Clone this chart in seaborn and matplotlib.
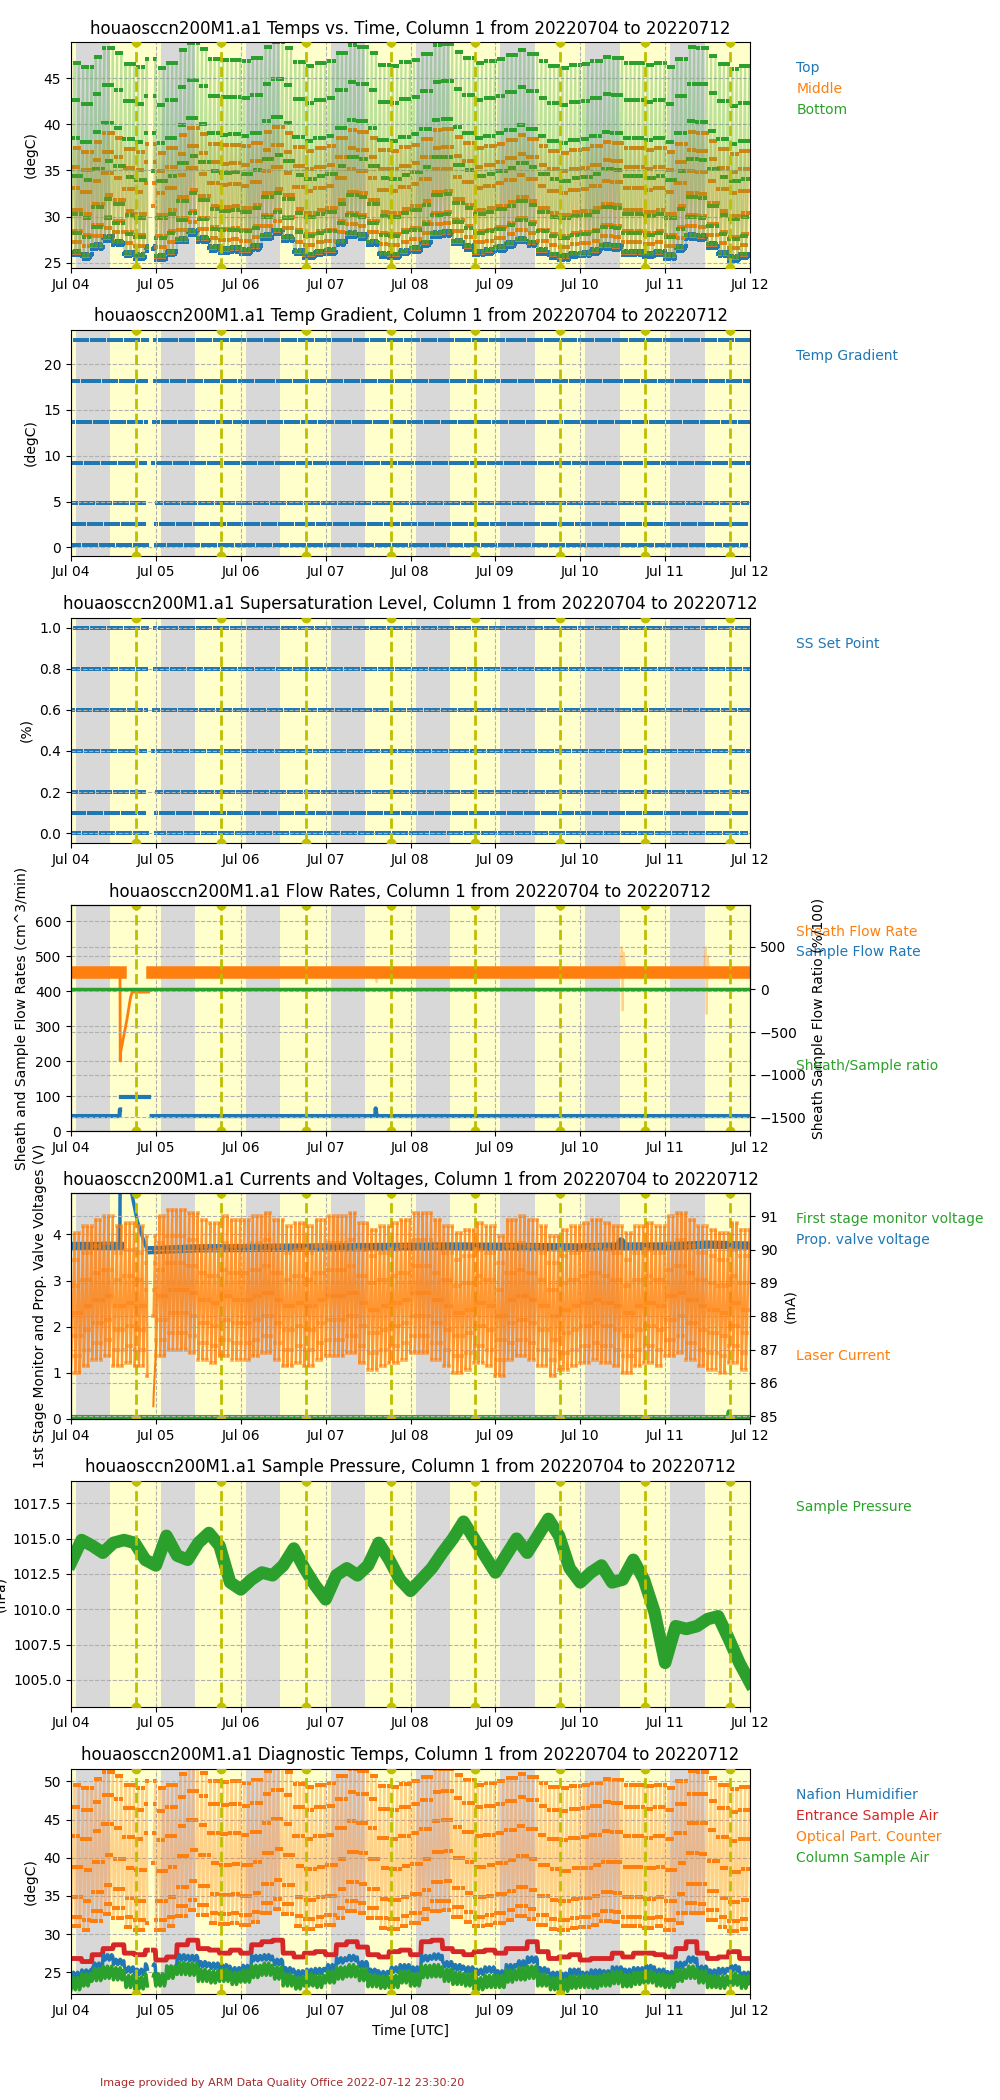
import numpy as np
import pandas as pd
import matplotlib
matplotlib.use('Agg')
import matplotlib.pyplot as plt
import matplotlib.dates as mdates
import matplotlib.ticker as mticker
from matplotlib.lines import Line2D
import seaborn as sns

nan = np.nan
start = pd.Timestamp('2022-07-04')
n_days = 8

# colours
c_blue, c_orange, c_green, c_red = '#1f77b4', '#ff7f0e', '#2ca02c', '#d62728'

titles = ['Temps vs. Time', 'Temp Gradient', 'Supersaturation Level', 'Flow Rates',
          'Currents and Voltages', 'Sample Pressure', 'Diagnostic Temps']
title_head = 'houaosccn200M1.a1 '
title_tail = ', Column 1 from 20220704 to 20220712'

# day / night shading (fraction of day, UTC)
night_start, night_end, solar_noon = 0.06, 0.465, 0.765

# supersaturation cycle: 7 steps, ~20 cycles per day
ss_levels = [0.0, 0.1, 0.2, 0.4, 0.6, 0.8, 1.0]
grad_levels = [0.3, 2.5, 4.8, 9.2, 13.7, 18.2, 22.6]
top_offsets = [0.0, 0.1, 0.1, 0.2, 0.3, 0.4, 0.5]
middle_offsets = [0.3, 1.4, 2.6, 4.9, 7.3, 9.6, 11.6]
bottom_offsets = [0.4, 2.4, 4.5, 8.6, 12.7, 16.8, 20.8]
opc_offsets = [5.2, 6.5, 9.0, 13.0, 17.0, 20.8, 23.8]
laser_levels = [86.5, 87.0, 87.6, 88.3, 89.1, 89.9, 90.7]
nafion_cycle = [-0.3, -0.2, 0.0, 0.2, 0.4, 0.3, 0.1]
column_cycle = [-0.6, -0.3, 0.2, 0.7, 1.0, 0.6, 0.0]
steps_per_day = 140
gap_start, gap_end = 0.90, 0.97

# 3-hourly values (8 per day)
top_temp_3h = [25.8, 25.4, 26.5, 27.4, 26.9, 25.7, 25.4, 26.3,
               25.3, 25.8, 27.2, 28.0, 27.3, 26.3, 26.1, 26.2,
               26.0, 26.4, 27.6, 28.1, 27.4, 25.9, 25.5, 25.8,
               26.0, 26.9, 27.8, 27.6, 26.9, 25.6, 25.5, 25.9,
               26.2, 26.8, 27.8, 27.9, 27.0, 26.4, 25.8, 26.0,
               26.3, 26.7, 27.2, 26.8, 26.0, 25.5, 25.3, 25.6,
               25.7, 26.0, 26.5, 26.4, 25.8, 25.8, 25.6, 25.8,
               25.4, 26.3, 27.6, 27.5, 26.6, 25.7, 25.2, 25.5]
laser_shift_3h = [-0.2, 0.0, 0.2, 0.3, 0.0, 0.1, 0.0, -0.3,
                  0.3, 0.5, 0.5, 0.4, 0.2, 0.1, 0.3, 0.2,
                  0.2, 0.3, 0.4, 0.2, 0.0, 0.1, 0.0, 0.2,
                  0.3, 0.3, 0.4, 0.1, -0.1, 0.0, 0.1, 0.2,
                  0.4, 0.4, 0.2, 0.0, -0.2, -0.1, 0.1, 0.0,
                  -0.3, 0.2, 0.3, 0.2, 0.0, -0.3, -0.1, 0.0,
                  0.1, 0.2, 0.1, 0.0, -0.2, 0.0, 0.1, 0.0,
                  0.3, 0.4, 0.2, 0.0, -0.1, -0.2, 0.1, -0.1]
entrance_3h = [26.8, 26.4, 27.3, 28.1, 28.6, 27.5, 27.3, 27.9,
               26.6, 27.0, 28.6, 29.2, 28.1, 27.9, 27.5, 27.9,
               27.5, 28.6, 29.0, 29.2, 27.5, 27.0, 27.5, 27.7,
               27.3, 28.6, 29.0, 28.3, 27.3, 27.0, 27.7, 27.9,
               27.3, 29.0, 29.2, 28.1, 27.7, 27.3, 27.7, 27.9,
               27.5, 28.1, 28.1, 29.0, 27.7, 26.8, 27.0, 27.3,
               26.6, 26.8, 26.8, 27.5, 27.0, 27.5, 27.5, 27.3,
               27.0, 28.1, 29.0, 27.5, 26.8, 27.0, 27.7, 26.8]
nafion_3h = [24.6, 24.9, 25.8, 26.9, 26.3, 25.3, 25.0, 25.7,
             24.3, 25.4, 26.9, 26.8, 26.0, 25.8, 25.6, 25.2,
             25.5, 26.8, 26.9, 26.3, 25.2, 24.8, 25.0, 25.1,
             25.6, 26.5, 26.8, 26.0, 25.0, 24.7, 25.3, 25.6,
             25.3, 26.8, 27.0, 26.0, 25.6, 25.3, 25.0, 25.3,
             24.8, 25.6, 26.1, 26.6, 25.2, 24.6, 24.5, 25.0,
             24.6, 24.9, 24.8, 25.3, 25.0, 25.2, 25.5, 25.0,
             24.7, 25.9, 26.6, 25.4, 24.9, 25.1, 25.5, 24.6]
column_3h = [23.3, 23.8, 24.5, 24.8, 24.6, 23.6, 23.4, 23.8,
             23.8, 24.8, 25.3, 25.2, 24.4, 24.2, 24.4, 24.0,
             24.3, 24.9, 25.2, 24.7, 23.8, 23.4, 23.8, 23.6,
             24.2, 24.7, 25.0, 24.5, 23.7, 23.5, 23.6, 24.2,
             23.8, 24.9, 25.0, 24.4, 24.0, 23.8, 23.3, 23.6,
             23.6, 24.3, 24.6, 24.8, 23.8, 23.3, 23.1, 23.5,
             23.6, 23.5, 23.8, 24.1, 23.7, 24.0, 24.2, 23.8,
             23.6, 24.4, 24.8, 24.2, 23.6, 23.5, 23.9, 23.5]

# sample pressure every 3 h, Jul 04 00:00 .. Jul 12 00:00
pressure_3h = [1013.3, 1014.9, 1014.5, 1014.0, 1014.7, 1014.9, 1014.7, 1013.5,
               1013.1, 1015.2, 1013.8, 1013.5, 1014.7, 1015.4, 1014.5, 1011.9,
               1011.4, 1012.1, 1012.6, 1012.4, 1013.1, 1014.3, 1012.9, 1011.7,
               1010.7, 1012.4, 1012.9, 1012.4, 1013.1, 1014.7, 1013.5, 1012.1,
               1011.3, 1012.1, 1012.9, 1014.0, 1015.0, 1016.2, 1015.0, 1013.8,
               1012.6, 1013.8, 1015.0, 1014.0, 1015.2, 1016.4, 1015.2, 1012.9,
               1011.9, 1012.6, 1013.1, 1011.9, 1012.1, 1013.5, 1012.1, 1009.8,
               1006.2, 1008.8, 1008.6, 1008.8, 1009.3, 1009.5, 1007.9, 1006.2,
               1004.8]

# flow rates (time in days since Jul 04)
sheath_days = [0.0, 0.575, nan, 0.95, 8.0]
sheath_vals = [455, 455, nan, 455, 455]
sheath_anom_days = [0.577, 0.58, 0.585, 0.62, 0.66, 0.70, 0.72, 0.915]
sheath_anom_vals = [455, 200, 225, 270, 320, 380, 397, 397]
sheath_spike_days = [3.58, 3.60, 3.62, nan, 6.47, 6.49, 6.50, 6.51, 6.53, nan,
                     7.46, 7.48, 7.49, 7.50, 7.52]
sheath_spike_vals = [455, 425, 455, nan, 455, 525, 345, 510, 455, nan,
                     455, 525, 335, 500, 455]
sample_days = [0.0, 0.572, 0.576, 0.578, nan, 0.585, 0.915, nan, 0.95, 3.585, 3.59, 3.60, 8.0]
sample_vals = [43, 43, 62, 62, nan, 97, 97, nan, 43, 43, 65, 43, 43]
ratio_days = [0.0, 0.915, nan, 0.95, 8.0]
ratio_vals = [0, 0, nan, 0, 0]

# currents and voltages
valve_days = [0.0, 0.575, nan, 0.95, 1.5, 3.0, 4.5, 6.0, 6.45, 6.48, 6.52, 7.0, 7.5, 8.0]
valve_vals = [3.75, 3.75, nan, 3.66, 3.70, 3.72, 3.74, 3.72, 3.74, 3.85, 3.74, 3.74, 3.78, 3.76]
valve_anom_days = [0.575, 0.58, 0.70, 0.715, 0.78, 0.85, 0.90]
valve_anom_vals = [3.75, 5.5, 5.5, 4.9, 4.3, 3.9, 3.65]
stage_days = [0.0, 0.915, nan, 0.95, 7.74, 7.75, 7.76, 8.0]
stage_vals = [0.04, 0.04, nan, 0.04, 0.04, 0.16, 0.04, 0.04]
laser_rec_days = [0.97, 0.975, 0.985, 0.995, 1.005]
laser_rec_vals = [85.3, 85.7, 86.2, 86.7, 87.2]


def typed(days, vals):
    d = np.array(days, float)
    v = np.array(vals, float)
    seg = np.cumsum(np.isnan(v))
    ok = ~np.isnan(v)
    return pd.DataFrame({'time': start + pd.to_timedelta(d[ok], unit='D'),
                         'val': v[ok], 'seg': seg[ok]})


# table of the cycled measurements
idx = np.arange(n_days * steps_per_day)
days = idx / steps_per_day
lvl = idx % len(ss_levels)
blk = (days * 8).astype(int)
keep = ~((days > gap_start) & (days < gap_end))
top_base = np.array(top_temp_3h)[blk]
cyc = pd.DataFrame({
    'time': start + pd.to_timedelta(days, unit='D'),
    'seg': (days >= gap_end).astype(int),
    'ss': np.array(ss_levels)[lvl],
    'grad': np.array(grad_levels)[lvl],
    'top': top_base + np.array(top_offsets)[lvl],
    'middle': top_base + np.array(middle_offsets)[lvl],
    'bottom': top_base + np.array(bottom_offsets)[lvl],
    'opc': top_base + np.array(opc_offsets)[lvl],
    'laser': np.array(laser_levels)[lvl] + np.array(laser_shift_3h)[blk],
    'entrance': np.array(entrance_3h)[blk],
    'nafion': np.array(nafion_3h)[blk] + np.array(nafion_cycle)[lvl],
    'column': np.array(column_3h)[blk] + np.array(column_cycle)[lvl],
})[keep]

pressure = typed(np.arange(len(pressure_3h)) / 8, pressure_3h)


def line(ax, df, y, color, **kw):
    sns.lineplot(data=df, x='time', y=y, units='seg', estimator=None, sort=False,
                 color=color, ax=ax, **kw)


def dots(ax, df, y, color, s=8, **kw):
    sns.scatterplot(data=df, x='time', y=y, color=color, s=s, marker='s',
                    linewidth=0, ax=ax, **kw)


def decorate(ax):
    td = lambda d: start + pd.Timedelta(days=d)
    ax.axvspan(td(0), td(night_start), color='yellow', alpha=0.2, lw=0)
    for d in range(n_days):
        ax.axvspan(td(d + night_start), td(d + night_end), color='gray', alpha=0.3, lw=0)
        ax.axvspan(td(d + night_end), td(d + 1 + night_start), color='yellow', alpha=0.2, lw=0)
        ax.axvline(td(d + solar_noon), color='y', ls='--', lw=2, marker='o', zorder=5)
    ax.set_xlim(start, start + pd.Timedelta(days=n_days))
    ax.xaxis.set_major_locator(mdates.DayLocator())
    ax.xaxis.set_major_formatter(mdates.DateFormatter('%b %d'))
    ax.grid(True, ls='--')


def labels(ax, names, colors, y=0.97):
    handles = [Line2D([], [], color=c) for c in colors]
    ax.legend(handles, names, loc='upper left', bbox_to_anchor=(1.05, y), frameon=False,
              handlelength=0, handletextpad=0, labelcolor=colors)


fig, axes = plt.subplots(7, 1, figsize=(10, 21), dpi=100)
fig.subplots_adjust(left=0.071, right=0.75, top=0.98, bottom=0.0503, hspace=0.274)

# 1: temperatures
ax = axes[0]
decorate(ax)
for col, c in [('top', c_blue), ('middle', c_orange), ('bottom', c_green)]:
    line(ax, cyc, col, c, lw=1.5, alpha=0.3)
    dots(ax, cyc, col, c, s=10)
ax.set_ylim(24.45, 48.9)
ax.set_ylabel('(degC)')
labels(ax, ['Top', 'Middle', 'Bottom'], [c_blue, c_orange, c_green])

# 2: temperature gradient
ax = axes[1]
decorate(ax)
dots(ax, cyc, 'grad', c_blue, s=5.5)
ax.set_ylim(-0.9, 23.75)
ax.set_ylabel('(degC)')
labels(ax, ['Temp Gradient'], [c_blue])

# 3: supersaturation
ax = axes[2]
decorate(ax)
dots(ax, cyc, 'ss', c_blue, s=5.5)
ax.set_ylim(-0.05, 1.05)
ax.set_ylabel('(%)')
labels(ax, ['SS Set Point'], [c_blue])

# 4: flow rates
ax = axes[3]
decorate(ax)
ax2 = ax.twinx()
line(ax, typed(sheath_days, sheath_vals), 'val', c_orange, lw=9)
line(ax, typed(sheath_anom_days, sheath_anom_vals), 'val', c_orange, lw=2)
line(ax, typed(sheath_spike_days, sheath_spike_vals), 'val', c_orange, lw=1.5, alpha=0.35)
line(ax, typed(sample_days, sample_vals), 'val', c_blue, lw=3)
line(ax2, typed(ratio_days, ratio_vals), 'val', c_green, lw=2.5)
ax.set_ylim(0, 645)
ax2.set_ylim(-1665, 990)
ax2.grid(True, ls='--')
ax.set_ylabel('Sheath and Sample Flow Rates (cm^3/min)')
ax2.set_ylabel('Sheath Sample Flow Ratio (%/100)')
ax.set_xlabel('')
ax2.set_xlabel('')
labels(ax, ['Sheath Flow Rate', 'Sample Flow Rate'], [c_orange, c_blue])
labels(ax2, ['Sheath/Sample ratio'], [c_green], y=0.373)

# 5: currents and voltages
ax = axes[4]
decorate(ax)
ax2 = ax.twinx()
line(ax, typed(stage_days, stage_vals), 'val', c_green, lw=3)
line(ax, typed(valve_days, valve_vals), 'val', c_blue, lw=6)
line(ax, typed(valve_anom_days, valve_anom_vals), 'val', c_blue, lw=2.5)
line(ax2, cyc, 'laser', c_orange, lw=1.6, alpha=0.8)
dots(ax2, cyc, 'laser', c_orange, s=5, alpha=0.5)
line(ax2, typed(laser_rec_days, laser_rec_vals), 'val', c_orange, lw=1.5)
ax.set_ylim(0, 4.9)
ax2.set_ylim(84.92, 91.7)
ax2.grid(True, ls='--')
ax.set_ylabel('1st Stage Monitor and Prop. Valve Voltages (V)')
ax2.set_ylabel('(mA)')
ax.set_xlabel('')
ax2.set_xlabel('')
labels(ax, ['First stage monitor voltage', 'Prop. valve voltage'], [c_green, c_blue])
labels(ax2, ['Laser Current'], [c_orange], y=0.366)

# 6: sample pressure
ax = axes[5]
decorate(ax)
line(ax, pressure, 'val', c_green, lw=9)
ax.set_ylim(1003.1, 1019.1)
ax.yaxis.set_major_locator(mticker.MultipleLocator(2.5))
ax.yaxis.set_major_formatter(mticker.FormatStrFormatter('%.1f'))
ax.set_ylabel('(hPa)')
labels(ax, ['Sample Pressure'], [c_green])

# 7: diagnostic temperatures
ax = axes[6]
decorate(ax)
line(ax, cyc, 'opc', c_orange, lw=1.5, alpha=0.35)
dots(ax, cyc, 'opc', c_orange, s=12)
line(ax, cyc, 'entrance', c_red, lw=3.5)
line(ax, cyc, 'nafion', c_blue, lw=2.5)
line(ax, cyc, 'column', c_green, lw=2.5)
ax.set_ylim(22.1, 51.7)
ax.set_ylabel('(degC)')
labels(ax, ['Nafion Humidifier', 'Entrance Sample Air', 'Optical Part. Counter', 'Column Sample Air'],
       [c_blue, c_red, c_orange, c_green])

for i, ax in enumerate(axes):
    ax.set_title(title_head + titles[i] + title_tail)
    ax.set_xlabel('')
axes[-1].set_xlabel('Time [UTC]')

fig.text(0.1, 0.0067, 'Image provided by ARM Data Quality Office 2022-07-12 23:30:20',
         fontsize=8, color='brown')

fig.savefig('out.png', dpi=100)
